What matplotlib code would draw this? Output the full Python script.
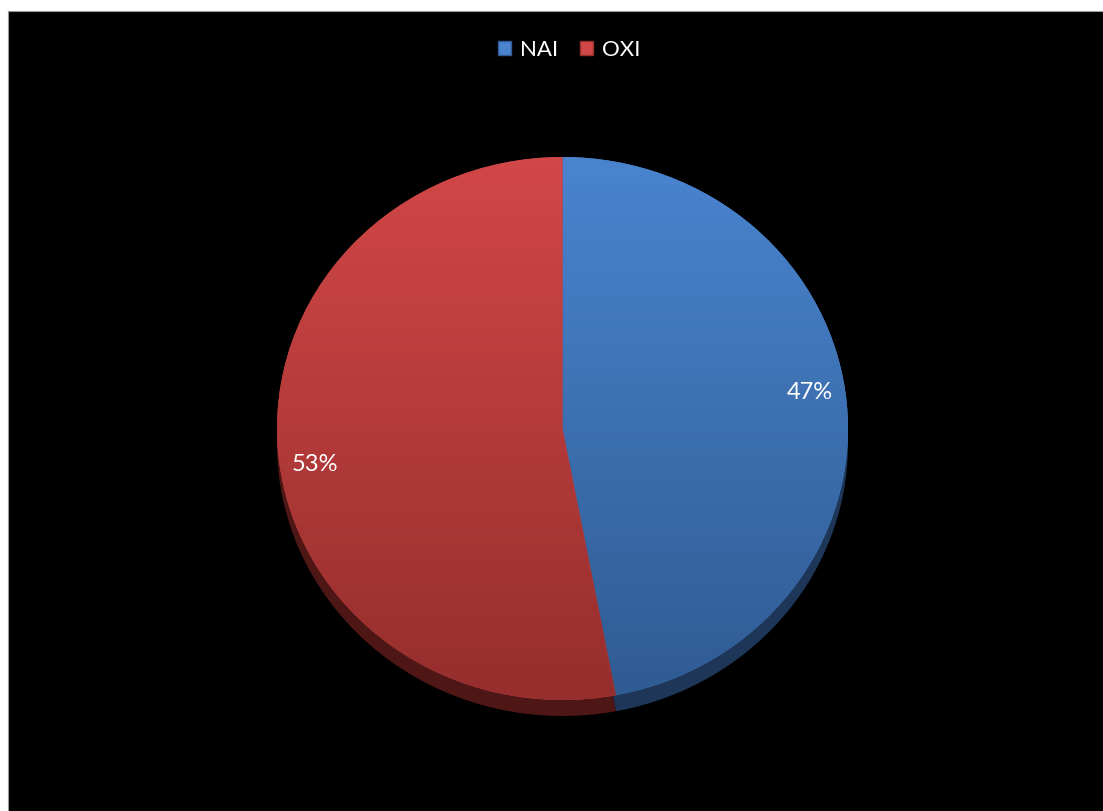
import numpy as np
import matplotlib
matplotlib.use('Agg')
import matplotlib.pyplot as plt
from matplotlib.patches import Rectangle, Patch
from matplotlib.colors import LinearSegmentedColormap

labels = ['NAI', 'OXI']
values = [47, 53]
top_colors = [('#4A84CF', '#2F5B92'), ('#D24747', '#952E2D')]
side_colors = ['#1E3658', '#4E1716']

W, H = 1103, 811
plt.rcParams['font.family'] = ['Lato', 'DejaVu Sans']

fig = plt.figure(figsize=(W / 100, H / 100), dpi=100)
fig.patch.set_facecolor('white')
# black chart area with white margin on left/top
fig.patches.append(Rectangle((8 / W, 0), 1 - 8 / W, 1 - 11 / H,
                             transform=fig.transFigure, facecolor='black',
                             edgecolor='#999999', linewidth=0.8, zorder=-10))

# pie axes covering the top face of the pie (pixels 277..848, 157..700)
x0, x1, ytop, ybot = 277, 848, 157, 700
ax = fig.add_axes([x0 / W, 1 - ybot / H, (x1 - x0) / W, (ybot - ytop) / H])
ax.set_zorder(1)
ax.set_facecolor('none')
depth = 16 / ((ybot - ytop) / 2)

# side (3D depth) of the pie
side, _ = ax.pie(values, colors=side_colors, startangle=90, counterclock=False,
                 center=(0, -depth), radius=1,
                 wedgeprops=dict(linewidth=0))
for w in side:
    w.set_clip_on(False)

# top face
wedges, texts, autotexts = ax.pie(values, colors=[c[0] for c in top_colors],
                                  startangle=90, counterclock=False,
                                  autopct='%1.0f%%', pctdistance=0.87,
                                  wedgeprops=dict(linewidth=0))
grad = np.linspace(0, 1, 256).reshape(-1, 1)
for w, (c_top, c_bot) in zip(wedges, top_colors):
    cmap = LinearSegmentedColormap.from_list('g', [c_top, c_bot])
    im = ax.imshow(grad, cmap=cmap, extent=(-1, 1, -1, 1), aspect='auto',
                   origin='upper', zorder=w.get_zorder() + 0.1)
    im.set_clip_path(w)
for w in wedges:
    w.set_clip_on(False)

# labels sit a little further from the horizontal than the bisector
for t in autotexts:
    px, py = t.get_position()
    t.set_position((px, py + 0.05 * np.sign(py)))
    t.set_color('white')
    t.set_fontsize(17)
    t.set_zorder(10)

ax.set_aspect('auto')
ax.set_xlim(-1, 1)
ax.set_ylim(-1, 1)
ax.axis('off')

handles = [Patch(facecolor=c[0], edgecolor=c[1]) for c in top_colors]
leg = fig.legend(handles, labels, loc='center', bbox_to_anchor=(0.516, 1 - 50 / H),
                 ncol=2, frameon=False, fontsize=16, handlelength=0.6,
                 handleheight=0.6, handletextpad=0.4, columnspacing=1.0)
leg.set_zorder(5)
for t in leg.get_texts():
    t.set_color('white')

fig.savefig('out.png', dpi=100, facecolor=fig.get_facecolor())
